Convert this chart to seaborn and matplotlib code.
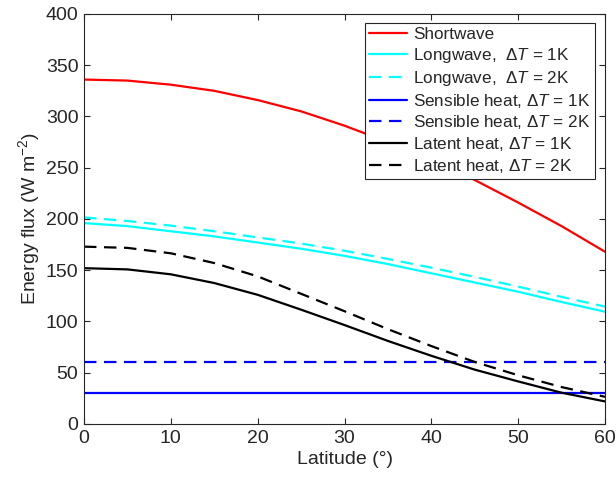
import matplotlib
matplotlib.use("Agg")
import matplotlib.pyplot as plt
import seaborn as sns
import pandas as pd

latitude = [0, 5, 10, 15, 20, 25, 30, 35, 40, 45, 50, 55, 60]
shortwave = [336, 335, 331, 325, 316, 305, 291, 275, 257, 238, 216, 193, 168]
longwave_1k = [196, 193, 188, 183, 177, 171, 164, 156, 147, 138, 129, 119, 109.5]
longwave_2k = [201.5, 198, 193.5, 188, 182, 176, 169, 161, 152.5, 143.5, 134, 124, 114.5]
sensible_1k = [30] * 13
sensible_2k = [60] * 13
latent_1k = [152, 150.8, 146, 137.5, 126, 111.5, 96.5, 81, 66.5, 53, 41.5, 30.5, 22]
latent_2k = [173, 171.8, 166.5, 157, 144, 127, 110, 92.5, 76, 60.5, 47.5, 36, 26.5]

labels = ["Shortwave",
          r"Longwave,  $\Delta T$ = 1K",
          r"Longwave,  $\Delta T$ = 2K",
          r"Sensible heat, $\Delta T$ = 1K",
          r"Sensible heat, $\Delta T$ = 2K",
          r"Latent heat, $\Delta T$ = 1K",
          r"Latent heat, $\Delta T$ = 2K"]
series = [shortwave, longwave_1k, longwave_2k, sensible_1k, sensible_2k, latent_1k, latent_2k]
colors = ["#ff0000", "#00ffff", "#00ffff", "#0000ff", "#0000ff", "#000000", "#000000"]
dashed = [False, False, True, False, True, False, True]

sns.set_style("white")
plt.rcParams["font.family"] = ["Liberation Sans", "DejaVu Sans"]
plt.rcParams["mathtext.fontset"] = "custom"
plt.rcParams["mathtext.rm"] = "Liberation Sans"
plt.rcParams["mathtext.it"] = "Liberation Sans:italic"

fig = plt.figure(figsize=(6.16, 4.83), dpi=100)
ax = fig.add_axes([0.1364, 0.1222, 0.8458, 0.8489])

for lab, vals, col, d in zip(labels, series, colors, dashed):
    df = pd.DataFrame({"lat": latitude, "val": vals})
    sns.lineplot(data=df, x="lat", y="val", ax=ax, color=col, lw=1.6, label=lab)
    l = ax.get_lines()[-1]
    if d:
        l.set_dashes((5.6, 3.4))

ax.set_xlim(0, 60)
ax.set_ylim(0, 400)
ax.set_xticks(range(0, 61, 10))
ax.set_yticks(range(0, 401, 50))
ax.set_xlabel("Latitude (°)", fontsize=14, color="#262626", labelpad=3)
ax.set_ylabel(r"Energy flux (W m$^{-2}$)", fontsize=14, color="#262626", labelpad=3)
ax.tick_params(axis="both", which="both", direction="in", length=4, width=0.8,
               top=True, right=True, bottom=True, left=True,
               labelsize=14, colors="#262626", pad=4)
for s in ax.spines.values():
    s.set_visible(True)
    s.set_color("#262626")
    s.set_linewidth(0.8)

leg = ax.legend(loc="upper right", bbox_to_anchor=(0.981, 0.978), borderaxespad=0,
                fontsize=12.3, handlelength=2.2, labelspacing=0.22, handletextpad=0.4,
                borderpad=0.25, fancybox=False, frameon=True, framealpha=1)
leg.get_frame().set_edgecolor("#262626")
leg.get_frame().set_linewidth(0.8)

fig.savefig("out.png", dpi=100)
